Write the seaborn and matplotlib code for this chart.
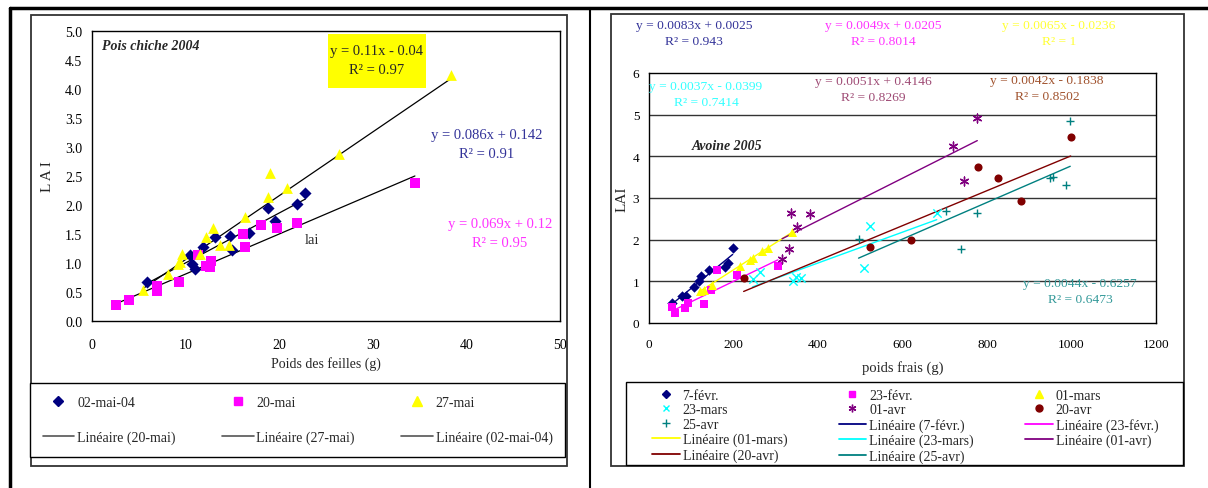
import matplotlib
matplotlib.use("Agg")
import matplotlib.pyplot as plt
from matplotlib.lines import Line2D
from matplotlib.patches import Rectangle
import seaborn as sns

W, H = 1208, 489

# ---- Pois chiche 2004 (left) ----
pc_names = ["02-mai-04", "20-mai", "27-mai"]
mai02_x = [5.9, 10.5, 10.7, 11.0, 11.9, 13.1, 14.7, 15.0, 16.8, 18.8, 19.5, 21.9, 22.8]
mai02_y = [0.68, 1.13, 0.99, 0.90, 1.27, 1.44, 1.47, 1.23, 1.52, 1.94, 1.73, 2.02, 2.20]
mai20_x = [2.6, 4.0, 6.9, 6.9, 9.3, 11.3, 12.2, 12.7, 12.6, 16.1, 16.3, 18.1, 19.8, 21.9, 34.5]
mai20_y = [0.28, 0.36, 0.61, 0.52, 0.68, 1.13, 0.94, 1.04, 0.93, 1.50, 1.28, 1.66, 1.61, 1.69, 2.38]
mai27_x = [5.4, 8.1, 9.2, 9.4, 9.6, 11.5, 12.2, 12.9, 13.7, 14.6, 16.3, 18.8, 19.0, 20.8, 26.4, 38.4]
mai27_y = [0.54, 0.81, 0.98, 1.01, 1.15, 1.15, 1.44, 1.60, 1.31, 1.31, 1.79, 2.13, 2.55, 2.30, 2.88, 4.24]
pc_slope = [0.086, 0.069, 0.11]
pc_inter = [0.142, 0.12, -0.04]
pc_r2 = [0.91, 0.95, 0.97]

# ---- Avoine 2005 (right) ----
av_names = ["7-févr.", "23-févr.", "01-mars", "23-mars", "01-avr", "20-avr", "25-avr"]
fev07_x = [54, 78, 88, 107, 119, 123, 141, 180, 186, 198]
fev07_y = [0.47, 0.64, 0.66, 0.86, 1.00, 1.14, 1.28, 1.34, 1.43, 1.80]
fev23_x = [54, 62, 85, 93, 131, 147, 162, 209, 305]
fev23_y = [0.38, 0.23, 0.35, 0.48, 0.46, 0.80, 1.27, 1.15, 1.38]
mars01_x = [121, 129, 150, 215, 238, 246, 268, 282, 338]
mars01_y = [0.78, 0.80, 0.91, 1.38, 1.51, 1.56, 1.72, 1.79, 2.18]
mars23_x = [245, 262, 340, 348, 360, 508, 522, 681]
mars23_y = [1.06, 1.23, 1.02, 1.11, 1.08, 1.31, 2.32, 2.63]
avr01_x = [315, 332, 337, 350, 380, 720, 745, 777]
avr01_y = [1.54, 1.78, 2.64, 2.31, 2.62, 4.25, 3.40, 4.92]
avr20_x = [224, 522, 621, 779, 825, 880, 998]
avr20_y = [1.07, 1.82, 1.99, 3.74, 3.49, 2.94, 4.46]
avr25_x = [496, 704, 739, 777, 949, 956, 987, 997]
avr25_y = [2.02, 2.70, 1.78, 2.64, 3.48, 3.51, 3.31, 4.86]
av_slope = [0.0083, 0.0049, 0.0065, 0.0037, 0.0051, 0.0042, 0.0044]
av_inter = [0.0025, 0.0205, -0.0236, -0.0399, 0.4146, -0.1838, -0.6257]
av_r2 = [0.943, 0.8014, 1, 0.7414, 0.8269, 0.8502, 0.6473]


def fx(x):
    return x / W


def fy(y):
    return 1 - y / H


def eq_text(a, b, r2):
    sign = "+" if b >= 0 else "-"
    return f"y = {a}x {sign} {abs(b)}\nR² = {r2}"


def frame(x0, y0, x1, y1, **kw):
    fig.add_artist(Rectangle((fx(x0), fy(y1)), (x1 - x0) / W, (y1 - y0) / H,
                             transform=fig.transFigure, **kw))


sns.set_style("white")
plt.rcParams["font.family"] = ["Liberation Serif", "DejaVu Serif"]

fig = plt.figure(figsize=(W / 100, H / 100), dpi=100)

# table lines and chart frames
fig.add_artist(Line2D([fx(10), fx(1208)], [fy(9), fy(9)], color="black", lw=2.5))
fig.add_artist(Line2D([fx(10), fx(10)], [fy(9), fy(489)], color="black", lw=2.5))
fig.add_artist(Line2D([fx(590), fx(590)], [fy(9), fy(489)], color="black", lw=1.5))
frame(31, 16, 567, 467, fill=False, ec="#333333", lw=1.3)
frame(611, 15, 1184, 467, fill=False, ec="#333333", lw=1.3)

# ---------------- left chart ----------------
ax1 = fig.add_axes([fx(92), fy(322), (560 - 92) / W, (322 - 32) / H])
pc_x = [mai02_x, mai20_x, mai27_x]
pc_y = [mai02_y, mai20_y, mai27_y]
pc_colors = ["#000080", "#FF00FF", "#FFFF00"]
pc_markers = ["D", "s", "^"]
pc_sizes = [38, 50, 60]

for xs, ys, a, b in zip(pc_x, pc_y, pc_slope, pc_inter):
    lx = [min(xs), max(xs)]
    sns.lineplot(x=lx, y=[a * v + b for v in lx], color="black", lw=0.9, ax=ax1)
for xs, ys, c, m, s in zip(pc_x, pc_y, pc_colors, pc_markers, pc_sizes):
    sns.scatterplot(x=xs, y=ys, color=c, marker=m, s=s, linewidth=0, ax=ax1, zorder=3)

ax1.set_xlim(0, 50)
ax1.set_ylim(0, 5)
ax1.set_xticks(range(0, 51, 10))
ax1.set_yticks([i * 0.5 for i in range(11)])
ax1.set_yticklabels([f"{i * 0.5:.1f}" for i in range(11)])
ax1.tick_params(direction="out", length=4, width=1, labelsize=10, colors="black", pad=3)
ax1.tick_params(axis="x", pad=8)
for sp in ax1.spines.values():
    sp.set_color("black")
    sp.set_linewidth(1)
ax1.set_xlabel("Poids des feilles (g)", fontsize=10, labelpad=4)
ax1.set_ylabel("L A I", fontsize=11, labelpad=8)

fig.text(fx(102), fy(46), "Pois chiche 2004", fontsize=10, fontweight="bold",
         fontstyle="italic", va="center", ha="left")
frame(328, 35, 426, 89, fc="#FFFF00", ec="none")
fig.text(fx(377), fy(61), eq_text(pc_slope[2], pc_inter[2], pc_r2[2]), fontsize=10.5,
         ha="center", va="center", multialignment="center", linespacing=1.65)
fig.text(fx(487), fy(145), eq_text(pc_slope[0], pc_inter[0], pc_r2[0]), fontsize=10.5,
         ha="center", va="center", multialignment="center", linespacing=1.55, color="#333399")
fig.text(fx(500), fy(234), eq_text(pc_slope[1], pc_inter[1], pc_r2[1]), fontsize=10.5,
         ha="center", va="center", multialignment="center", linespacing=1.55, color="#FF33FF")
fig.text(fx(312), fy(241), "lai", fontsize=10.5, ha="center", va="center")

pc_handles = [Line2D([], [], ls="none", marker=m, color=c, markersize=ms)
              for m, c, ms in zip(pc_markers, pc_colors, [5, 6, 6.5])]
pc_lines = [Line2D([], [], color="#555555", lw=1.2) for _ in range(3)]
pc_line_labels = [f"Linéaire ({pc_names[1]})", f"Linéaire ({pc_names[2]})",
                  f"Linéaire ({pc_names[0]})"]
handles = [pc_handles[0], pc_lines[0], pc_handles[1], pc_lines[1], pc_handles[2], pc_lines[2]]
labels = [pc_names[0], pc_line_labels[0], pc_names[1], pc_line_labels[1],
          pc_names[2], pc_line_labels[2]]
fig.legend(handles, labels, ncol=3, loc="center", mode="expand",
           bbox_to_anchor=(fx(30), fy(460), 535 / W, 78 / H), borderaxespad=0,
           fontsize=10, frameon=True, fancybox=False, edgecolor="black",
           handlelength=2.3, handletextpad=0.2, labelspacing=1.6, borderpad=0.9,
           framealpha=1).get_frame().set_linewidth(1)

# ---------------- right chart ----------------
ax2 = fig.add_axes([fx(649), fy(324), (1156 - 649) / W, (324 - 74) / H])
av_x = [fev07_x, fev23_x, mars01_x, mars23_x, avr01_x, avr20_x, avr25_x]
av_y = [fev07_y, fev23_y, mars01_y, mars23_y, avr01_y, avr20_y, avr25_y]
av_colors = ["#000080", "#FF00FF", "#FFFF00", "#00FFFF", "#800080", "#800000", "#008080"]
av_markers = ["D", "s", "^", "x", (6, 2, 0), "o", "+"]
av_sizes = [28, 32, 42, 36, 40, 34, 40]
av_text_colors = ["#333399", "#FF33FF", "#FFFF33", "#33FFFF", "#9E4A74", "#A0522D", "#339999"]

for y in range(1, 6):
    ax2.axhline(y, color="#333333", lw=1, zorder=0)
for xs, ys, a, b, c in zip(av_x, av_y, av_slope, av_inter, av_colors):
    lx = [min(xs), max(xs)]
    sns.lineplot(x=lx, y=[a * v + b for v in lx], color=c, lw=1, ax=ax2)
for xs, ys, c, m, s in zip(av_x, av_y, av_colors, av_markers, av_sizes):
    sns.scatterplot(x=xs, y=ys, color=c, marker=m, s=s,
                    linewidth=1 if m in ("x", "+", (6, 2, 0)) else 0, ax=ax2, zorder=3)

ax2.set_xlim(0, 1200)
ax2.set_ylim(0, 6)
ax2.set_xticks(range(0, 1201, 200))
ax2.set_yticks(range(0, 7))
ax2.tick_params(direction="out", length=4, width=1, labelsize=9.5, colors="black", pad=3)
ax2.tick_params(axis="x", pad=7)
for sp in ax2.spines.values():
    sp.set_color("black")
    sp.set_linewidth(1)
ax2.set_xlabel("poids frais (g)", fontsize=10.5, labelpad=7)
ax2.set_ylabel("LAI", fontsize=11, labelpad=3)

fig.text(fx(692), fy(147), "Avoine 2005", fontsize=10, fontweight="bold",
         fontstyle="italic", va="center", ha="left")
eq_pos = [(694, 34), (883, 34), (1059, 34), (706, 95), (873, 90), (1047, 89), (1080, 292)]
for (px, py), a, b, r2, c in zip(eq_pos, av_slope, av_inter, av_r2, av_text_colors):
    fig.text(fx(px), fy(py), eq_text(a, b, r2), fontsize=9.7, ha="center", va="center",
             multialignment="center", linespacing=1.5, color=c)

av_handles = [Line2D([], [], ls="none", marker=m, color=c, markersize=ms,
                     markeredgewidth=1)
              for m, c, ms in zip(av_markers, av_colors, [4, 5, 5.5, 5, 5.5, 5, 6])]
av_lines = [Line2D([], [], color=c, lw=1.3) for c in av_colors]
all_h = av_handles + av_lines
all_l = av_names + [f"Linéaire ({n})" for n in av_names]
# row-major order -> column-major for matplotlib legend (5 rows x 3 cols)
rows = [list(range(i, min(i + 3, 14))) for i in range(0, 14, 3)]
order = [r[c] for c in range(3) for r in rows if c < len(r)]
frame(626, 383, 1183, 466, fc="white", ec="black", lw=1)
fig.legend([all_h[i] for i in order], [all_l[i] for i in order], ncol=3,
           loc="upper left", bbox_to_anchor=(fx(652), fy(389.5)),
           borderaxespad=0, borderpad=0, fontsize=10, frameon=False,
           handlelength=2.0, handletextpad=0.2, columnspacing=3.7, labelspacing=0.13)

fig.savefig("out.png", dpi=100)
